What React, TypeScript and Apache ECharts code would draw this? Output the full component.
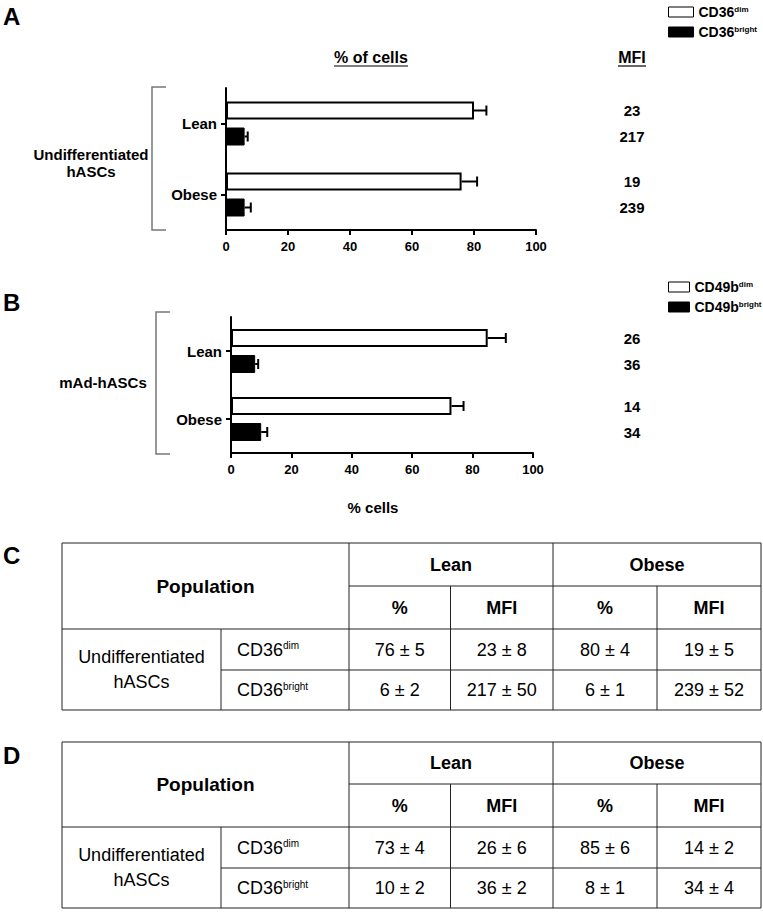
import React, { useEffect, useRef } from "react";
import * as echarts from "echarts";

// ---------- data ----------
const categories = ["Lean", "Obese"];

// Panel A (CD36, undifferentiated hASCs)
const aSeriesNames = ["CD36dim", "CD36bright"];
const aDimPct = [80, 76];
const aDimErr = [4, 5];
const aBrightPct = [6, 6];
const aBrightErr = [1, 2];
const aDimMfi = [23, 19];
const aBrightMfi = [217, 239];

// Panel B (CD49b, mAd-hASCs)
const bSeriesNames = ["CD49bdim", "CD49bbright"];
const bDimPct = [85, 73];
const bDimErr = [6, 4];
const bBrightPct = [8, 10];
const bBrightErr = [1, 2];
const bDimMfi = [26, 14];
const bBrightMfi = [36, 34];

const xMin = 0;
const xMax = 100;
const xStep = 20;

// Tables C and D
const tableGroups = ["Lean", "Obese"];
const tableSubHeaders = ["%", "MFI", "%", "MFI"];
const tableRowGroup = "Undifferentiated\nhASCs";
const tableMarkers = ["dim", "bright"];
const tableCValues = [
  ["76 ± 5", "23 ± 8", "80 ± 4", "19 ± 5"],
  ["6 ± 2", "217 ± 50", "6 ± 1", "239 ± 52"],
];
const tableDValues = [
  ["73 ± 4", "26 ± 6", "85 ± 6", "14 ± 2"],
  ["10 ± 2", "36 ± 2", "8 ± 1", "34 ± 4"],
];

// ---------- styling / layout ----------
const FONT = "'Liberation Sans', Arial, Helvetica, sans-serif";
const BAR_W = 18;
const BAR_GAP = 8;
const OFF = (BAR_W + BAR_GAP) / 2;
const MFI_X = 632;

const supFmt = (name: string) => name.replace(/(dim|bright)$/, "{sup|$1}");

function txt(text: string, x: number, y: number, size: number, bold: boolean, align = "center", extra: any = {}) {
  return {
    type: "text",
    x,
    y,
    silent: true,
    style: {
      text,
      fill: "#000",
      fontFamily: FONT,
      fontSize: size,
      fontWeight: bold ? "bold" : "normal",
      align,
      verticalAlign: "middle",
      textAlign: align,
      textVerticalAlign: "middle",
      ...extra,
    },
  };
}

function ln(x1: number, y1: number, x2: number, y2: number, color = "#222", w = 1) {
  return { type: "line", silent: true, shape: { x1, y1, x2, y2 }, style: { stroke: color, lineWidth: w } };
}

function axisSet(grid: number) {
  return {
    x: {
      gridIndex: grid,
      type: "value",
      min: xMin,
      max: xMax,
      interval: xStep,
      axisLine: { show: true, lineStyle: { color: "#000", width: 2 } },
      axisTick: { show: true, length: 5, lineStyle: { color: "#000", width: 2 } },
      splitLine: { show: false },
      axisLabel: { color: "#000", fontFamily: FONT, fontWeight: "bold", fontSize: 13, margin: 10 },
    },
    y: {
      gridIndex: grid,
      type: "category",
      data: categories,
      inverse: true,
      axisLine: { show: true, lineStyle: { color: "#000", width: 2 } },
      axisTick: { show: true, alignWithLabel: true, length: 5, lineStyle: { color: "#000", width: 2 } },
      splitLine: { show: false },
      axisLabel: { color: "#000", fontFamily: FONT, fontWeight: "bold", fontSize: 15, margin: 9 },
    },
  };
}

function barSeries(grid: number, name: string, data: number[], dim: boolean) {
  return {
    type: "bar",
    name,
    xAxisIndex: grid,
    yAxisIndex: grid,
    data,
    barWidth: BAR_W,
    barGap: `${(BAR_GAP / BAR_W) * 100}%`,
    itemStyle: dim
      ? { color: "#fff", borderColor: "#000", borderWidth: 2 }
      : { color: "#000", borderColor: "#000", borderWidth: 1 },
    emphasis: { disabled: true },
  };
}

function errSeries(grid: number, vals: number[], errs: number[], off: number) {
  return {
    type: "custom",
    xAxisIndex: grid,
    yAxisIndex: grid,
    clip: false,
    z: 3,
    silent: true,
    data: vals.map((v, i) => [v, i, errs[i]]),
    encode: { x: 0, y: 1 },
    renderItem: (_p: any, api: any) => {
      const v = api.value(0);
      const c = api.value(1);
      const e = api.value(2);
      const a = api.coord([v, c]);
      const b = api.coord([v + e, c]);
      const y = a[1] + off;
      return {
        type: "group",
        children: [
          { type: "line", shape: { x1: a[0], y1: y, x2: b[0], y2: y }, style: { stroke: "#000", lineWidth: 2 } },
          { type: "line", shape: { x1: b[0], y1: y - 5, x2: b[0], y2: y + 5 }, style: { stroke: "#000", lineWidth: 2 } },
        ],
      };
    },
  };
}

function mfiSeries(grid: number, mfis: number[], off: number) {
  return {
    type: "custom",
    xAxisIndex: grid,
    yAxisIndex: grid,
    clip: false,
    silent: true,
    data: mfis.map((m, i) => [xMin, i, m]),
    encode: { x: 0, y: 1 },
    renderItem: (_p: any, api: any) => {
      const c = api.value(1);
      const p = api.coord([xMin, c]);
      return {
        type: "text",
        x: MFI_X,
        y: p[1] + off,
        style: {
          text: String(api.value(2)),
          fill: "#000",
          fontFamily: FONT,
          fontSize: 15,
          fontWeight: "bold",
          align: "center",
          verticalAlign: "middle",
          textAlign: "center",
          textVerticalAlign: "middle",
        },
      };
    },
  };
}

function legend(names: string[], top: number, itemWidth: number, gap: number) {
  return {
    data: names,
    orient: "vertical",
    left: 663,
    top,
    itemWidth,
    itemHeight: 10,
    itemGap: gap,
    icon: "rect",
    selectedMode: false,
    formatter: supFmt,
    itemStyle: { borderWidth: 1 },
    textStyle: {
      fontFamily: FONT,
      fontWeight: "bold",
      fontSize: 14,
      color: "#000",
      rich: { sup: { fontFamily: FONT, fontWeight: "bold", fontSize: 8, color: "#000", verticalAlign: "top" } },
    },
  };
}

function tableGraphics(rows: number[], values: string[][], marker: string) {
  const c = [62, 221, 349, 450.5, 553, 657, 761];
  const r = rows;
  const els: any[] = [];
  // horizontal lines
  els.push(ln(c[0], r[0], c[6], r[0]));
  els.push(ln(c[2], r[1], c[6], r[1]));
  els.push(ln(c[0], r[2], c[6], r[2]));
  els.push(ln(c[1], r[3], c[6], r[3]));
  els.push(ln(c[0], r[4], c[6], r[4]));
  // vertical lines
  els.push(ln(c[0], r[0], c[0], r[4]));
  els.push(ln(c[1], r[2], c[1], r[4]));
  els.push(ln(c[2], r[0], c[2], r[4]));
  els.push(ln(c[3], r[1], c[3], r[4]));
  els.push(ln(c[4], r[0], c[4], r[4]));
  els.push(ln(c[5], r[1], c[5], r[4]));
  els.push(ln(c[6], r[0], c[6], r[4]));
  // headers
  els.push(txt("Population", (c[0] + c[2]) / 2, (r[0] + r[2]) / 2, 19, true));
  tableGroups.forEach((g, i) => {
    els.push(txt(g, (c[2 + 2 * i] + c[4 + 2 * i]) / 2, (r[0] + r[1]) / 2, 18, true));
  });
  tableSubHeaders.forEach((h, i) => {
    els.push(txt(h, (c[2 + i] + c[3 + i]) / 2, (r[1] + r[2]) / 2, 18, true));
  });
  els.push(txt(tableRowGroup, (c[0] + c[1]) / 2, (r[2] + r[4]) / 2, 18, false, "center", { lineHeight: 25 }));
  tableMarkers.forEach((m, k) => {
    els.push(
      txt(`${marker}{sup|${m}}`, c[1] + 16, (r[2 + k] + r[3 + k]) / 2, 18, false, "left", {
        rich: { sup: { fontFamily: FONT, fontSize: 10, fill: "#000", verticalAlign: "top" } },
      })
    );
    values[k].forEach((v, i) => {
      els.push(txt(v, (c[2 + i] + c[3 + i]) / 2, (r[2 + k] + r[3 + k]) / 2, 18, false));
    });
  });
  return els;
}

export default function App() {
  const ref = useRef<HTMLDivElement>(null);
  useEffect(() => {
    if (!ref.current) return;
    const chart = echarts.init(ref.current, undefined, { renderer: "svg" });
    const axA = axisSet(0);
    const axB = axisSet(1);
    const graphic: any[] = [
      // panel letters
      txt("A", 3, 16, 24, true, "left"),
      txt("B", 3, 302, 24, true, "left"),
      txt("C", 3, 555, 24, true, "left"),
      txt("D", 3, 755, 24, true, "left"),
      // panel A headers
      txt("% of cells", 371, 57, 16, true),
      ln(334, 66, 408, 66, "#000", 1.2),
      txt("MFI", MFI_X, 57, 16, true),
      ln(618, 66, 646, 66, "#000", 1.2),
      // panel A bracket + group label
      { type: "polyline", silent: true, shape: { points: [[166, 87], [152, 87], [152, 230], [166, 230]] }, style: { stroke: "#777", lineWidth: 1.5, fill: "none" } },
      txt("Undifferentiated\nhASCs", 91, 163, 15, true, "center", { lineHeight: 17 }),
      // panel B bracket + group label
      { type: "polyline", silent: true, shape: { points: [[170, 312], [156, 312], [156, 454], [170, 454]] }, style: { stroke: "#777", lineWidth: 1.5, fill: "none" } },
      txt("mAd-hASCs", 103, 382, 15, true),
      txt("% cells", 373, 507, 15, true),
      ...tableGraphics([543, 586, 629, 670, 710], tableCValues, "CD36"),
      ...tableGraphics([742, 784, 827, 868, 908], tableDValues, "CD36"),
    ];

    chart.setOption({
      animation: false,
      backgroundColor: "#fff",
      textStyle: { fontFamily: FONT },
      grid: [
        { left: 226, top: 88, width: 310, height: 142 },
        { left: 231, top: 317, width: 302, height: 136 },
      ],
      xAxis: [axA.x, axB.x],
      yAxis: [axA.y, axB.y],
      legend: [legend(aSeriesNames, 0, 25, 6), legend(bSeriesNames, 275, 21, 6)],
      series: [
        barSeries(0, aSeriesNames[0], aDimPct, true),
        barSeries(0, aSeriesNames[1], aBrightPct, false),
        errSeries(0, aDimPct, aDimErr, -OFF),
        errSeries(0, aBrightPct, aBrightErr, OFF),
        mfiSeries(0, aDimMfi, -OFF),
        mfiSeries(0, aBrightMfi, OFF),
        barSeries(1, bSeriesNames[0], bDimPct, true),
        barSeries(1, bSeriesNames[1], bBrightPct, false),
        errSeries(1, bDimPct, bDimErr, -OFF),
        errSeries(1, bBrightPct, bBrightErr, OFF),
        mfiSeries(1, bDimMfi, -OFF),
        mfiSeries(1, bBrightMfi, OFF),
      ],
      graphic,
    });
    return () => chart.dispose();
  }, []);
  return <div ref={ref} style={{ position: "absolute", left: 0, top: 0, width: 763, height: 912 }} />;
}
